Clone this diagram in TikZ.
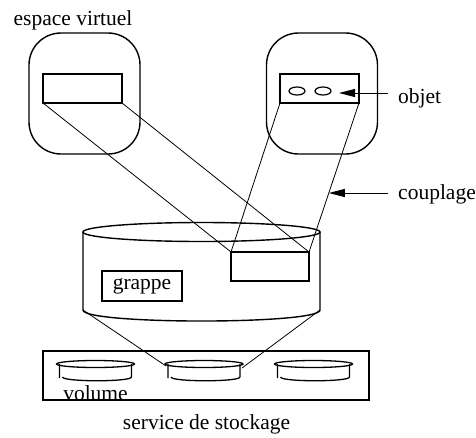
\documentclass[tikz,border=0pt]{standalone}
\usepackage{fontspec}
\setmainfont{Liberation Serif}
\usepackage{tikz}
\usetikzlibrary{arrows.meta}

\begin{document}
\begin{tikzpicture}[x=1pt,y=-1pt,
	box/.style={draw,line width=1.4pt,inner sep=0pt,outer sep=0pt},
	space/.style={box,rounded corners=32pt,minimum width=111pt,minimum height=121pt},
	zone/.style={box,minimum width=79pt,minimum height=29pt},
	lbl/.style={font=\fontsize{21.5}{25}\selectfont,inner sep=0pt},
	pointer/.style={-{Triangle[length=16pt,width=8pt]},line width=1pt},
	link/.style={line width=0.8pt}]
	\useasboundingbox (0,0) rectangle (476,437);
	\node[lbl,anchor=base] (ev) at (73,25) {espace virtuel};
	\node[space] (sl) at (84.5,93.5) {};
	\node[space] (sr) at (322,93.5) {};
	\node[zone] (zl) at (82.5,88.5) {};
	\node[zone] (zr) at (319.5,88.5) {};
	\draw[line width=1.2pt] (297,91) ellipse [x radius=8,y radius=4] (323,91) ellipse [x radius=8,y radius=4];
	\node[lbl,anchor=base west,inner xsep=10pt] (objet) at (388,103) {objet};
	\coordinate (objtip) at (339,93);
	\draw[pointer] (objet.west |- objtip) -- (objtip);

	\draw[line width=1.4pt] (201.5,232) ellipse [x radius=118.5,y radius=9.5];
	\draw[line width=1.4pt] (83,232) -- (83,310) .. controls (83,324.7) and (320,324.7) .. (320,310) -- (320,232);
	\coordinate (gl) at (83,310);
	\coordinate (gr) at (320,310);
	\node[zone,minimum width=78pt] (zc) at (270,266.5) {};
	\node[box,lbl,minimum width=80pt,minimum height=30pt] (grappe) at (142,286) {grappe};

	\path[link] (zl.south west) edge (zc.north west)
		(zl.south east) edge (zc.north east)
		(zr.south west) edge (zc.north west);
	\draw[link] (zr.south east) -- coordinate[pos=0.604] (cpl) (zc.north east);
	\node[lbl,anchor=base west,inner xsep=10pt] (couplage) at (388,199) {couplage};
	\draw[pointer] (couplage.west |- cpl) -- (cpl);

	\node[box,minimum width=326pt,minimum height=49pt] (stock) at (206,375.5) {};
	\foreach \cx/\nm in {95.5/va,204/vb,313.5/vc}{
		\draw[line width=1.3pt] (\cx,364) ellipse [x radius=39,y radius=3.5];
		\draw[line width=1.3pt] (\cx-36,364) -- (\cx-36,378) (\cx+36,364) -- (\cx+36,377)
			(\cx-33,377) .. controls (\cx-33,382) and (\cx+36,382) .. (\cx+36,377);
		\coordinate (\nm-l) at (\cx-38,366);
		\coordinate (\nm-r) at (\cx+38,368);
	}
	\path[link] (gl) edge (vb-l)
		(gr) edge (vb-r);
	\node[lbl,anchor=base] (vol) at (95.5,400) {volume};
	\node[lbl,anchor=base] (svc) at (206.5,429) {service de stockage};
\end{tikzpicture}
\end{document}
